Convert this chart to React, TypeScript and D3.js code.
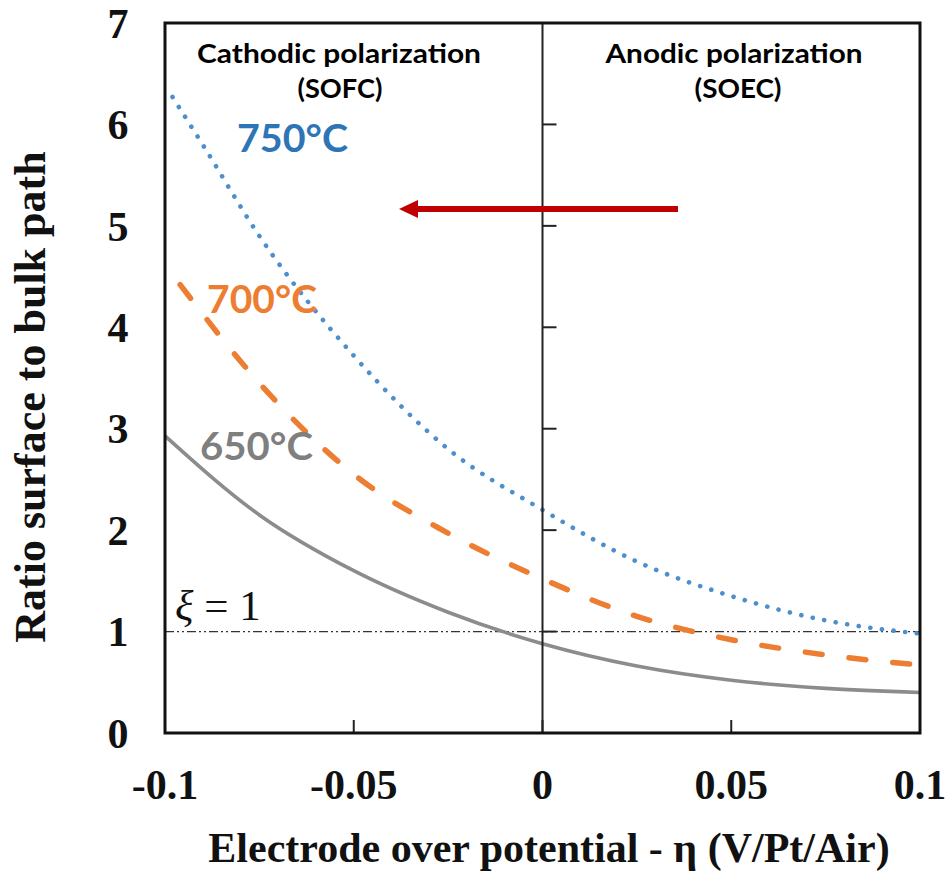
import React from "react";
import * as d3 from "d3";

const W = 948;
const H = 873;

// x = electrode overpotential (V), y = ratio surface to bulk path
const eta650 = [-0.1, -0.075, -0.05, -0.025, 0, 0.025, 0.05, 0.075, 0.1];
const ratio650 = [2.93, 2.15, 1.6, 1.19, 0.88, 0.66, 0.52, 0.44, 0.4];

const eta700 = [-0.096, -0.075, -0.05, -0.025, 0, 0.025, 0.05, 0.075, 0.1];
const ratio700 = [4.42, 3.45, 2.55, 1.97, 1.52, 1.15, 0.92, 0.77, 0.67];

const eta750 = [-0.098, -0.09, -0.075, -0.05, -0.025, 0, 0.025, 0.05, 0.075, 0.1];
const ratio750 = [6.27, 5.8, 4.9, 3.72, 2.8, 2.2, 1.69, 1.35, 1.11, 0.98];

const xTicks = [-0.1, -0.05, 0, 0.05, 0.1];
const xTickLabels = ["-0.1", "-0.05", "0", "0.05", "0.1"];
const yTicks = [0, 1, 2, 3, 4, 5, 6, 7];
const xDomain = [-0.1, 0.1];
const yDomain = [0, 7];
const xiValue = 1;

const seriesLabels = ["650°C", "700°C", "750°C"];

const L = 165, R = 920, T = 23, B = 733;

export default function App() {
  const x = d3.scaleLinear().domain(xDomain).range([L, R]);
  const y = d3.scaleLinear().domain(yDomain).range([B, T]);
  const line = (xs: number[], ys: number[]) =>
    d3
      .line<number>()
      .x((_, i) => x(xs[i]))
      .y((d) => y(d))
      .curve(d3.curveMonotoneX)(ys) as string;

  const serif = "'Liberation Serif', 'Times New Roman', serif";
  const sans = "Lato, 'Open Sans', sans-serif";

  return (
    <svg
      width={W}
      height={H}
      style={{ position: "absolute", left: 0, top: 0, background: "#fff" }}
    >
      <rect x={0} y={0} width={W} height={H} fill="#fff" />
      {/* xi = 1 reference line */}
      <line
        x1={L}
        x2={R}
        y1={y(xiValue)}
        y2={y(xiValue)}
        stroke="#333"
        strokeWidth={1.3}
        strokeDasharray="9 3 2 3 2 3"
      />
      {/* series */}
      <path d={line(eta650, ratio650)} fill="none" stroke="#8c8c8c" strokeWidth={3.6} />
      <path
        d={line(eta700, ratio700)}
        fill="none"
        stroke="#ED7D31"
        strokeWidth={5.5}
        strokeDasharray="17 27"
        strokeLinecap="round"
      />
      <path
        d={line(eta750, ratio750)}
        fill="none"
        stroke="#4d8fcc"
        strokeWidth={4.6}
        strokeDasharray="0.1 11.6"
        strokeLinecap="round"
      />
      {/* center axis at x=0 */}
      <line x1={x(0)} x2={x(0)} y1={T} y2={B} stroke="#222" strokeWidth={2} />
      {yTicks.slice(1, -1).map((t) => (
        <line key={"yt" + t} x1={x(0)} x2={x(0) + 14} y1={y(t)} y2={y(t)} stroke="#222" strokeWidth={2} />
      ))}
      {xTicks.map((t) => (
        <line key={"xt" + t} x1={x(t)} x2={x(t)} y1={B} y2={B - 13} stroke="#222" strokeWidth={2} />
      ))}
      {/* frame */}
      <rect x={L} y={T} width={R - L} height={B - T} fill="none" stroke="#111" strokeWidth={3} />
      {/* y tick labels */}
      {yTicks.map((t) => (
        <text
          key={"yl" + t}
          x={118}
          y={y(t)}
          dy="0.35em"
          textAnchor="middle"
          fontFamily={serif}
          fontWeight="bold"
          fontSize={42}
          fill="#111"
        >
          {t}
        </text>
      ))}
      {/* x tick labels */}
      {xTicks.map((t, i) => (
        <text
          key={"xl" + t}
          x={x(t)}
          y={799}
          textAnchor="middle"
          fontFamily={serif}
          fontWeight="bold"
          fontSize={42}
          fill="#111"
        >
          {xTickLabels[i]}
        </text>
      ))}
      {/* axis titles */}
      <text x={549} y={862} textAnchor="middle" fontFamily={serif} fontWeight="bold" fontSize={42} fill="#111">
        Electrode over potential - η (V/Pt/Air)
      </text>
      <text
        transform={`translate(45,397) rotate(-90)`}
        textAnchor="middle"
        fontFamily={serif}
        fontWeight="bold"
        fontSize={44}
        fill="#111"
      >
        Ratio surface to bulk path
      </text>
      {/* xi label */}
      <text x={175} y={620} fontFamily={serif} fontSize={43} fill="#111">
        <tspan fontStyle="italic">ξ</tspan>
        <tspan> = 1</tspan>
      </text>
      {/* region annotations */}
      <g fontFamily={sans} fontWeight="bold" fontSize={27} fill="#000" textAnchor="middle" lengthAdjust="spacingAndGlyphs">
        <text x={339} y={63} textLength={284} lengthAdjust="spacingAndGlyphs">Cathodic polarization</text>
        <text x={340} y={98} textLength={85} lengthAdjust="spacingAndGlyphs">(SOFC)</text>
        <text x={734} y={63} textLength={257} lengthAdjust="spacingAndGlyphs">Anodic polarization</text>
        <text x={738} y={98} textLength={87} lengthAdjust="spacingAndGlyphs">(SOEC)</text>
      </g>
      {/* series labels */}
      <g fontFamily={sans} fontWeight="bold" fontSize={39}>
        <text x={200} y={460} fill="#7f7f7f" textLength={113} lengthAdjust="spacingAndGlyphs">{seriesLabels[0]}</text>
        <text x={207} y={313} fill="#ED7D31" textLength={110} lengthAdjust="spacingAndGlyphs">{seriesLabels[1]}</text>
        <text x={237} y={152} fill="#2E75B6" textLength={111} lengthAdjust="spacingAndGlyphs">{seriesLabels[2]}</text>
      </g>
      {/* red arrow */}
      <line x1={678} x2={414} y1={209} y2={209} stroke="#C00000" strokeWidth={6} />
      <path d="M399,209 L418,200 L418,218 Z" fill="#C00000" />
    </svg>
  );
}
